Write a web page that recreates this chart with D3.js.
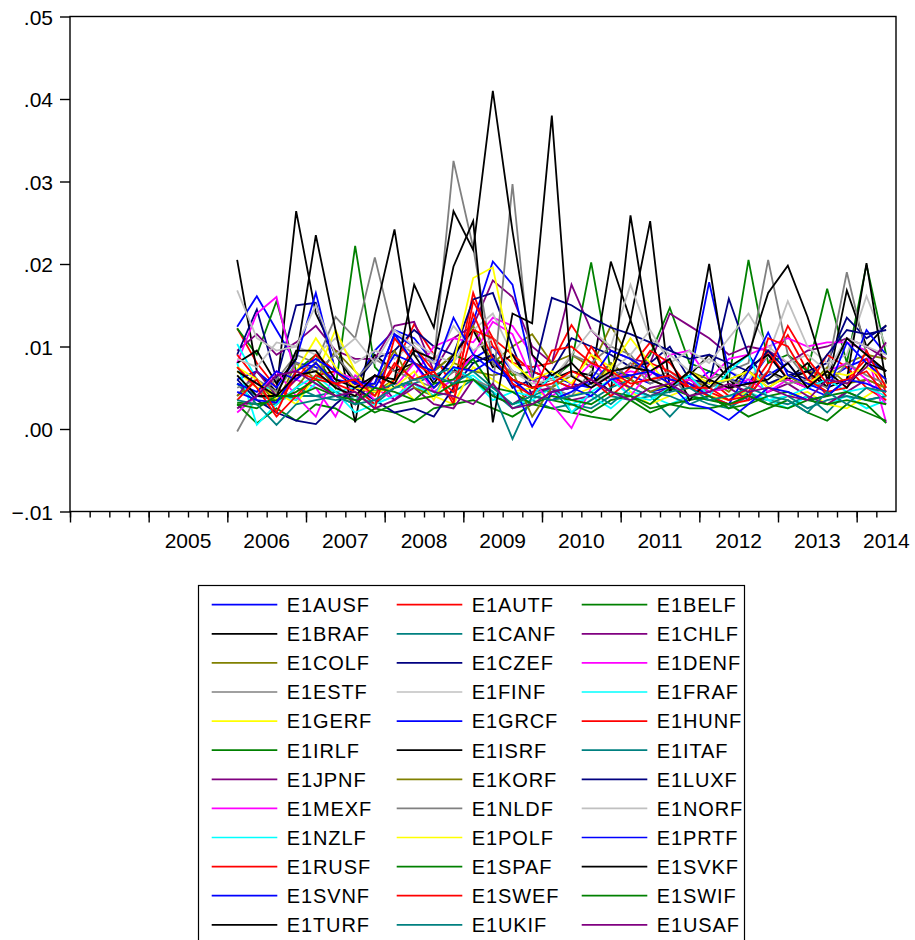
<!DOCTYPE html>
<html>
<head>
<meta charset="utf-8">
<script src="https://cdn.jsdelivr.net/npm/d3@7"></script>
<style>
  body { margin: 0; background: #fff; }
  svg { display: block; font-family: "Liberation Sans", Arial, sans-serif; }
  .axis path, .axis line { stroke: #000; stroke-width: 1.4; }
  .axis text { font-size: 21px; fill: #000; }
</style>
</head>
<body>
<svg id="chart" width="915" height="940"></svg>
<script>
// quarterly observations, values in thousandths (x 0.001)
const quarters = [
  '2006Q1','2006Q2','2006Q3','2006Q4','2007Q1','2007Q2','2007Q3','2007Q4',
  '2008Q1','2008Q2','2008Q3','2008Q4','2009Q1','2009Q2','2009Q3','2009Q4',
  '2010Q1','2010Q2','2010Q3','2010Q4','2011Q1','2011Q2','2011Q3','2011Q4',
  '2012Q1','2012Q2','2012Q3','2012Q4','2013Q1','2013Q2','2013Q3','2013Q4',
  '2014Q1','2014Q2'
];
const yearLabels = ['2005','2006','2007','2008','2009','2010','2011','2012','2013','2014'];
const yTicks = [-0.01, 0, 0.01, 0.02, 0.03, 0.04, 0.05];

const E1AUSF = [12.4,16.1,12,8,7.5,6,5.5,9.5,12,11,8,7,8.5,10,7,6,6.5,5.5,5,7,6.5,5.5,6.5,5,7,6,5.5,9,6,5,6,7.5,8.5,7];
const E1AUTF = [12.2,8,5,3.5,6.5,7,5.5,4,7.5,12.7,9,5,16.5,10,8,7.5,8,12.6,9,5,7.5,10.5,6,5,6,4,4.5,8,11.4,7,4,6,8.5,4.5];
const E1BELF = [12.2,9,15.5,7,9,5,22.2,7.5,5,6,7,9,8,9,6.5,7,6,8,20.2,7,6,9,14.7,8,7,6,20.5,8,9,7,17,8,19.9,9];
const E1BRAF = [20.5,7,4.5,26.4,14,9,5.5,9,7,8,5,7,9,8,6,5,4.5,5,6,20.3,13.2,25.2,4.8,6.5,9,6,4,7,6,8,5,16.8,10,12.6];
const E1CANF = [5.5,4,3.5,4,4,3.5,4,3,5,5.5,4,4.5,6,4.5,2.5,3.5,2.5,3,2.5,4,3.5,4,1.5,4,3,2.5,4,3.5,3,4,2,4.5,3.5,4];
const E1CHLF = [9.5,11.5,9,10.5,12.5,9.5,8.5,8.5,12.5,13,7,11,12.5,18,16,10,8,17.5,12,9.5,8.5,8,14,12.5,11,9,10,9.5,8,9.5,10,11,10,8.5];
const E1COLF = [7.5,5,3,8,6,9.5,7,4.5,6,8,7,9,12.5,8,10,11.5,8,9,7.5,12.5,8.5,6,5,7,6,4.5,7,5.5,6,7,6.5,8,9,8.5];
const E1CZEF = [9,14.5,6,15,15.3,7,5.5,8.5,9.5,12,10,9,15.7,16.5,10,4,7,11,10,9,7.5,8,10,6,5.5,15.8,9,5.5,6.5,7,8,13.5,11,12.5];
const E1DENF = [8,14,16,6,5,1.5,6.5,5,3.5,6.5,10,11,10.5,13.5,12.5,9,4,5.5,8,6,7,6.5,9,9.5,6,8.5,9,10,11,10,10.5,10.5,9.5,0.8];
const E1ESTF = [-0.3,4,6,9,8,13.6,11,20.8,11,9,8,32.5,22,8,7,6,5,9,8,10,9,6,7,5,6,7,8,20.5,9,6,7,19,9,7];
const E1FINF = [16.8,11,9.5,10,9,11,8,9.5,8.5,10.5,9,8,12,14,9,7,6,9,12,10,17.5,11,9,7,8.5,7,6,9,15.5,10,8,9,16.1,10];
const E1FRAF = [10.3,6,4,3.5,5.5,4.5,5,3,4,5,4.5,6,6.5,4.5,3,3.5,5,3,4,2.5,4.5,4,3,4,3.5,4,4.5,3.5,2.5,4,3,4,2.5,3.5];
const E1GERF = [7,5,4.5,3,6.5,12,7,4,6,3.5,4,3,7.5,6,4.5,5,3.5,4,5,7.5,4.5,3,4,5,4,3.5,4.5,3,4,4.5,3,2.5,4,5.5];
const E1GRCF = [6,7,5,8.5,16.5,7,5,5.5,11.5,10,6,8.5,13,20.3,17.5,7,6,5,5.5,8,6,4.5,5,6,17.8,7,5.5,6.5,8,5,4,6,12,9];
const E1HUNF = [9,6,3.5,6,9,7,5,3,6,10,7,3,15.5,11,9,7,6,5,10,6.5,5,8,7,5.5,4.5,3.5,5,9.5,6,5,9,7.5,5,3.5];
const E1IRLF = [3,0.7,2.5,1,3,2.5,1,2.5,2,0.8,2.5,3,3.5,2.5,1.5,3,2.5,2,1.5,1.1,3.5,2,3,2.5,2.5,3,1.5,2.5,3.5,2,1,3,2,1];
const E1ISRF = [8,9.5,5.5,8.5,23.5,12,0.8,13.8,24.2,9,5.5,9,12,7.5,9,5,6,7,6.5,4.5,25.9,11,4.5,7,20,5,7.5,9,6,7,5,6,20.1,5.5];
const E1ITAF = [5.5,3,3,5,4,4.5,3.5,4.5,5.5,5.5,6.5,7.5,6,4.5,-1.2,4,5,2,3.5,5,6,4.5,4,3,4,2.5,4.5,3,4,2.5,3.5,4,3.5,4];
const E1JPNF = [4,7,4,6,8,5.5,3,6.5,3.5,5,3,2.5,6,4,3,4.5,5,3.5,4,6,5,4,5,6,4.5,5,3.5,4.5,5.5,4,3,4.5,6,5];
const E1KORF = [4,6,3,5,8,5,4,5.5,9.5,5,4,8,7,6.5,7,1.5,5,6.5,5,8,6,4.5,5.5,6,5,6,7,5,6.5,5,7.5,5.5,6,5];
const E1LUXF = [6,3.5,2,1,0.6,3,5,3.5,2,2.5,1.5,5,8,9,5,6,15.9,15,13.5,12.3,11.5,10.5,9.5,8.5,9,8,7,9.5,7,6,9,12,11.5,12];
const E1MEXF = [2,4,7,4,1.5,7,6,3.5,5,8,4.5,6,9,13,11.5,6,3,0.1,5,6.5,4,7,5.5,6,4.5,5,6,4.5,6,5,7,8,6,3];
const E1NLDF = [5,6,4.5,8,7,9,6,8.5,7,6,5,7,6,5,29.7,6,5,4,7,6,8,5.5,6.5,4,5,6,5,7,5.5,6,5,8,6.5,5.5];
const E1NORF = [8.5,7.5,10.5,10,15,9,11,8,12,10,8,12.5,9.5,11,7,5.5,6,6.5,5,7,9,12,8,9.5,8,11,14,10,8,9,7,11,10,9];
const E1NZLF = [8,0.5,3,5,6.5,4.5,2,3,4,5.5,4,7.5,6,3.5,4.5,4,6.5,2,4.5,6,4,3.5,5,6.5,4,7,9,3.5,4,5,6,4.5,5,4];
const E1POLF = [7.5,6,3.5,7,11,7.5,5,4.5,5,7,3.5,8,18.3,19.6,8,6,7,5.5,9,7.5,11,8,5,7,5.5,6,7,5,6.5,5.5,7,6.5,7.5,6];
const E1PRTF = [5.5,4.5,7,6,8,5.5,6,5,9,8,7,13.5,9,7,6,4,3.5,4.5,6,9.5,8.5,7,6,5.5,4,3,7,11.7,6.5,5.5,4.5,10.5,8,6];
const E1RUSF = [7.5,5,1.5,4,6.5,5.5,4.5,2.5,11,8,6.5,4.5,14,8.5,6,5,5.5,7,6,4,6,9.5,8,5,4,3,3.5,11,10,6,4.5,5,9.5,5];
const E1SPAF = [3.2,3,3.5,4.5,6,4,3.5,2,3,3.5,5.5,6,8.5,5,4.5,3,4,3.5,3,4.5,4,2.5,3,3.5,4,2.5,3,4,4.5,3.5,3,3.5,3,0.7];
const E1SVKF = [6.5,4,4,9.5,9.5,6,5,6.5,6,17.5,12.3,26.4,21.7,41,24,9,6.5,8,5.5,7,7.5,7,8.5,3.5,6,5,5.5,6,8,5,7,5,8,7];
const E1SVNF = [4.5,3.5,3.2,7,8.5,7,5.5,5.5,11.5,8,5,7.5,7,8.5,5.5,0.3,4.5,5,4,6,6.5,7,5.5,3,2.5,1.1,3,5,4.5,3.5,4,6,5.5,4.5];
const E1SWEF = [3.5,6,2,7,6,5.5,6,4,8,6,7,3.5,12,11,5.5,4,9.5,10,8,7,5.5,6,6.5,5,5,3.5,4,7,12.5,8.5,5.5,6,7,4];
const E1SWIF = [3,2.5,4,4,5,4,3,5,4.5,3.5,4,5.5,6,4,3,4,3.5,3,2,3.5,4,3,5,4,3.5,3,4,3,2.5,3.5,4,4.5,3.5,3];
const E1TURF = [7,5.5,4,6.5,7,5,4,6.5,5.5,9.5,8.5,19.7,25.2,0.8,14,12.8,38,6.4,5,6.5,13.2,6,5,7,5,7.5,9,16.5,19.8,13.6,6,11,9,7];
const E1UKIF = [3.5,3,0.5,3,3.5,4,3,3.5,5,6,6.5,5.5,7,5,3,4,3.5,4,4.5,3,5,4,4.5,5,3.5,4,5,4,3.5,2,4.5,3,5,4.5];
const E1USAF = [2.5,4,6.5,7,5.5,4,4.5,2.5,3.5,5.5,4.5,4,3,5.5,2.5,3,4.5,5,6,4.5,3.5,5,5.5,4,4.5,5.5,4.5,5,4,3.5,6,5.5,7.5,10.5];

const seriesNames = [
  'E1AUSF','E1AUTF','E1BELF','E1BRAF','E1CANF','E1CHLF','E1COLF','E1CZEF','E1DENF',
  'E1ESTF','E1FINF','E1FRAF','E1GERF','E1GRCF','E1HUNF','E1IRLF','E1ISRF','E1ITAF',
  'E1JPNF','E1KORF','E1LUXF','E1MEXF','E1NLDF','E1NORF','E1NZLF','E1POLF','E1PRTF',
  'E1RUSF','E1SPAF','E1SVKF','E1SVNF','E1SWEF','E1SWIF','E1TURF','E1UKIF','E1USAF'
];
const seriesValues = [
  E1AUSF, E1AUTF, E1BELF, E1BRAF, E1CANF, E1CHLF, E1COLF, E1CZEF, E1DENF,
  E1ESTF, E1FINF, E1FRAF, E1GERF, E1GRCF, E1HUNF, E1IRLF, E1ISRF, E1ITAF,
  E1JPNF, E1KORF, E1LUXF, E1MEXF, E1NLDF, E1NORF, E1NZLF, E1POLF, E1PRTF,
  E1RUSF, E1SPAF, E1SVKF, E1SVNF, E1SWEF, E1SWIF, E1TURF, E1UKIF, E1USAF
];
const seriesColors = [
  '#0000ff','#ff0000','#008000','#000000','#008080','#800080','#808000','#000080','#ff00ff',
  '#808080','#c0c0c0','#00ffff','#ffff00','#0000ff','#ff0000','#008000','#000000','#008080',
  '#800080','#808000','#000080','#ff00ff','#808080','#c0c0c0','#00ffff','#ffff00','#0000ff',
  '#ff0000','#008000','#000000','#0000ff','#ff0000','#008000','#000000','#008080','#800080'
];

const svg = d3.select('#chart');
const margin = { top: 16.5, left: 70, right: 19, bottom: 428.5 };
const W = 915, H = 940;
const x0 = margin.left, x1 = W - margin.right;
const y0 = margin.top, y1 = H - margin.bottom;

// time as decimal year, each quarter plotted at its middle
const qTime = q => +q.slice(0, 4) + (+q.slice(5) - 1) / 4 + 0.125;

const x = d3.scaleLinear().domain([2004, 2014.5]).range([x0, x1]);
const y = d3.scaleLinear().domain([-0.01, 0.05]).range([y1, y0]);

// frame
svg.append('rect')
  .attr('x', x0).attr('y', y0)
  .attr('width', x1 - x0).attr('height', y1 - y0)
  .attr('fill', 'none').attr('stroke', '#000').attr('stroke-width', 1.4);

// y axis
const yFmt = d => d === 0 ? '.00' : d3.format('.2f')(d).replace('0.', '.');
svg.append('g')
  .attr('class', 'axis')
  .attr('transform', `translate(${x0},0)`)
  .call(d3.axisLeft(y).tickValues(yTicks).tickSize(10).tickPadding(7).tickFormat(yFmt))
  .call(g => g.select('.domain').remove())
  .selectAll('text').attr('dy', '0.36em');

// x axis: quarterly minor ticks, yearly major ticks, year labels centred in the year
const quarterTicks = d3.range(2004, 2014.5, 0.25);
const yearTicks = d3.range(2004, 2015, 1);
svg.append('g')
  .attr('class', 'axis')
  .attr('transform', `translate(0,${y1})`)
  .call(d3.axisBottom(x).tickValues(quarterTicks).tickSize(6).tickFormat(''))
  .call(g => g.select('.domain').remove());
svg.append('g')
  .attr('class', 'axis')
  .attr('transform', `translate(0,${y1})`)
  .call(d3.axisBottom(x).tickValues(yearTicks).tickSize(11).tickFormat(''))
  .call(g => g.select('.domain').remove());

svg.append('g')
  .selectAll('text')
  .data(yearLabels)
  .enter().append('text')
    .attr('x', d => {
      const a = +d, b = Math.min(+d + 1, 2014.5);
      return x((a + b) / 2) + (b - a < 1 ? 10 : 0);
    })
    .attr('y', y1 + 36)
    .attr('text-anchor', 'middle')
    .attr('font-size', 21)
    .text(d => d);

// series
const line = d3.line()
  .x((d, i) => x(qTime(quarters[i])))
  .y(d => y(d / 1000));

svg.append('g')
  .selectAll('path')
  .data(seriesValues)
  .enter().append('path')
    .attr('d', d => line(d))
    .attr('fill', 'none')
    .attr('stroke', (d, i) => seriesColors[i])
    .attr('stroke-width', 1.8)
    .attr('stroke-linejoin', 'miter');

// legend
const lg = { left: 198.5, top: 585.5, width: 546, rowH: 29.1, colW: 185, firstRow: 604.7 };
svg.append('rect')
  .attr('x', lg.left).attr('y', lg.top)
  .attr('width', lg.width).attr('height', 380)
  .attr('fill', 'none').attr('stroke', '#000').attr('stroke-width', 1.2);

const items = svg.append('g')
  .selectAll('g')
  .data(seriesNames)
  .enter().append('g')
    .attr('transform', (d, i) =>
      `translate(${lg.left + 13.2 + (i % 3) * lg.colW},${lg.firstRow + Math.floor(i / 3) * lg.rowH})`);

items.append('line')
  .attr('x1', 0).attr('x2', 65.6)
  .attr('stroke', (d, i) => seriesColors[i])
  .attr('stroke-width', 1.7);

items.append('text')
  .attr('x', 75)
  .attr('y', 7.3)
  .attr('font-size', 20)
  .attr('letter-spacing', 0.9)
  .text(d => d);
</script>
</body>
</html>
